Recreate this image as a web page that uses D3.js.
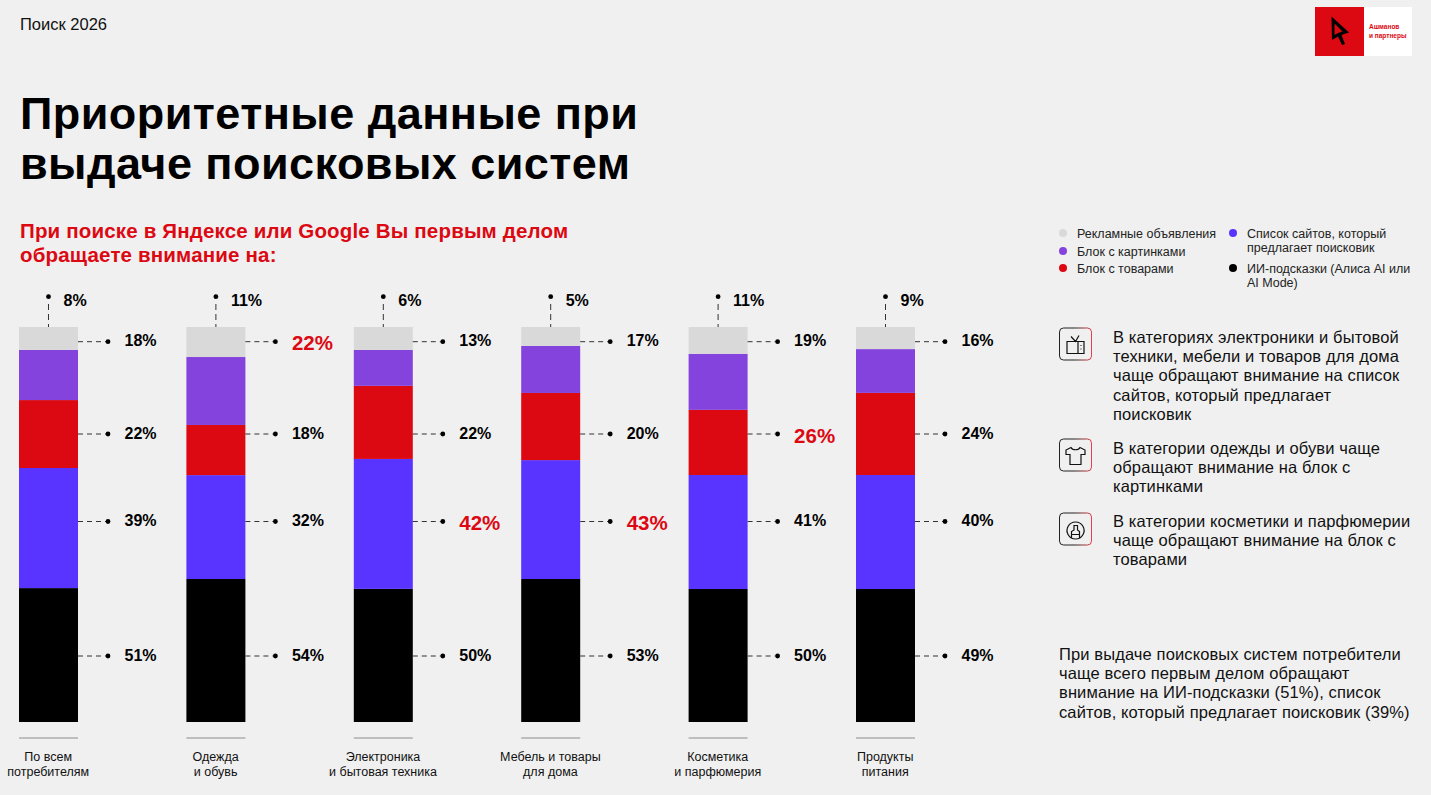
<!DOCTYPE html>
<html>
<head>
<meta charset="utf-8">
<script src="https://cdn.jsdelivr.net/npm/d3@7"></script>
<style>
  html, body { margin: 0; padding: 0; background: #f0f0f0; overflow: hidden; }
  svg { display: block; font-family: "Liberation Sans", Arial, sans-serif; }
</style>
</head>
<body>
<svg id="chart" width="1431" height="795"></svg>
<script>
const categories = [
  ["По всем", "потребителям"],
  ["Одежда", "и обувь"],
  ["Электроника", "и бытовая техника"],
  ["Мебель и товары", "для дома"],
  ["Косметика", "и парфюмерия"],
  ["Продукты", "питания"]
];
const seriesKeys = ["ads", "images", "goods", "sites", "ai"];
const seriesColors = ["#d9d9d9", "#8543dd", "#dc0812", "#5933ff", "#000000"];

// printed percentages (multiple choice, they don't add up to 100)
const adsValues = [8, 11, 6, 5, 11, 9];
const imagesValues = [18, 22, 13, 17, 19, 16];
const goodsValues = [22, 18, 22, 20, 26, 24];
const sitesValues = [39, 32, 42, 43, 41, 40];
const aiValues = [51, 54, 50, 53, 50, 49];

// the drawn bars are not proportional to the labels, so the shares are read off the picture
const adsShare = [5.8, 7.6, 5.8, 4.8, 6.8, 5.6];
const imagesShare = [12.7, 17.2, 9.1, 11.9, 14.2, 11.1];
const goodsShare = [17.2, 12.7, 18.5, 17.0, 16.5, 20.8];
const sitesShare = [30.4, 26.3, 32.9, 30.1, 28.9, 28.9];
const aiShare = [33.9, 36.2, 33.7, 36.2, 33.7, 33.7];

// labels set in big red: [category, series]
const highlighted = [[1, "images"], [2, "sites"], [3, "sites"], [4, "goods"]];

const legendLeft = ["Рекламные объявления", "Блок с картинками", "Блок с товарами"];
const legendRight = [["Список сайтов, который", "предлагает поисковик"], ["ИИ-подсказки (Алиса AI или", "AI Mode)"]];

const notes = [
  ["В категориях электроники и бытовой", "техники, мебели и товаров для дома", "чаще обращают внимание на список", "сайтов, который предлагает", "поисковик"],
  ["В категории одежды и обуви чаще", "обращают внимание на блок с", "картинками"],
  ["В категории косметики и парфюмерии", "чаще обращают внимание на блок с", "товарами"]
];
const summary = ["При выдаче поисковых систем потребители", "чаще всего первым делом обращают", "внимание на ИИ-подсказки (51%), список", "сайтов, который предлагает поисковик (39%)"];

const svg = d3.select("#chart");
const RED = "#dc0812";

const textLines = (g, lines, x, y0, step, attrs) => {
  lines.forEach((line, i) => {
    const t = g.append("text").attr("x", x).attr("y", y0 + i * step).text(line);
    Object.entries(attrs).forEach(([k, v]) => t.attr(k, v));
  });
};

// header
svg.append("text").attr("x", 20).attr("y", 30).attr("font-size", 16.5).attr("fill", "#111").text("Поиск 2026");
textLines(svg, ["Приоритетные данные при", "выдаче поисковых систем"], 20, 129, 50, {
  "font-size": 45, "font-weight": 700, fill: "#000", "letter-spacing": 0.45
});
textLines(svg, ["При поиске в Яндексе или Google Вы первым делом", "обращаете внимание на:"], 20, 238, 24, {
  "font-size": 20.5, "font-weight": 700, fill: RED, "letter-spacing": 0.17
});

// logo
const logo = svg.append("g");
logo.append("rect").attr("x", 1315).attr("y", 7).attr("width", 49).attr("height", 49).attr("fill", RED);
logo.append("rect").attr("x", 1364).attr("y", 7).attr("width", 48).attr("height", 49).attr("fill", "#fff");
logo.append("path")
  .attr("d", "M1331.5 16.5 L1349 32.5 L1341.5 35 L1345 44 L1342 45 L1338 36.5 L1332 40 Z M1334.5 23.5 L1334.5 35 L1338 33 L1342.5 31.5 Z")
  .attr("fill", "#000").attr("fill-rule", "evenodd");
textLines(logo, ["Ашманов", "и партнеры"], 1369, 29, 9, { "font-size": 6.5, "font-weight": 700, fill: RED });

// stacked bars
const rows = categories.map((c, i) => ({
  ads: adsShare[i], images: imagesShare[i], goods: goodsShare[i], sites: sitesShare[i], ai: aiShare[i]
}));
const labelValues = { images: imagesValues, goods: goodsValues, sites: sitesValues, ai: aiValues };

const x = d3.scaleBand().domain(d3.range(categories.length)).range([19, 915]).paddingInner(0.6476).paddingOuter(0);
const y = d3.scaleLinear().domain([0, 1]).range([722, 327]);
const stacked = d3.stack().keys(seriesKeys.slice().reverse()).offset(d3.stackOffsetExpand)(rows);
const color = d3.scaleOrdinal().domain(seriesKeys).range(seriesColors);

svg.append("g").selectAll("g").data(stacked).join("g")
  .attr("fill", d => color(d.key))
  .selectAll("rect").data(d => d).join("rect")
  .attr("x", (d, i) => x(i))
  .attr("y", d => y(d[1]))
  .attr("width", x.bandwidth())
  .attr("height", d => y(d[0]) - y(d[1]));

// leaders and labels, the label rows sit at fixed heights in the original
const labelRows = [["images", 341.7], ["goods", 434], ["sites", 521.5], ["ai", 656]];
const leaders = svg.append("g");
categories.forEach((c, i) => {
  const cx = x(i) + x.bandwidth() / 2;
  const rx = x(i) + x.bandwidth();
  leaders.append("line").attr("x1", cx).attr("x2", cx).attr("y1", 304).attr("y2", 327)
    .attr("stroke", "#333").attr("stroke-width", 1).attr("stroke-dasharray", "6 4");
  leaders.append("circle").attr("cx", cx).attr("cy", 296.7).attr("r", 2.4).attr("fill", "#000");
  leaders.append("text").attr("x", cx + 15).attr("y", 306).attr("font-size", 16).attr("font-weight", 700).text(adsValues[i] + "%");

  labelRows.forEach(([key, ly]) => {
    const hot = highlighted.some(h => h[0] === i && h[1] === key);
    leaders.append("line").attr("x1", rx).attr("x2", rx + 28).attr("y1", ly).attr("y2", ly)
      .attr("stroke", "#333").attr("stroke-width", 1).attr("stroke-dasharray", "5 4");
    leaders.append("circle").attr("cx", rx + 30).attr("cy", ly).attr("r", 2.4).attr("fill", "#000");
    leaders.append("text").attr("x", rx + 46.5).attr("y", ly + (hot ? 8.5 : 4.5))
      .attr("font-size", hot ? 20.5 : 16).attr("font-weight", 700)
      .attr("fill", hot ? RED : "#000")
      .text(labelValues[key][i] + "%");
  });

  svg.append("line").attr("x1", x(i)).attr("x2", rx).attr("y1", 738).attr("y2", 738)
    .attr("stroke", "#8c8c8c").attr("stroke-width", 1.2);
  textLines(svg, c, cx - 0.3, 761, 14.5, { "font-size": 12.5, "text-anchor": "middle", fill: "#111" });
});

// legend
legendLeft.forEach((t, i) => {
  const ly = [233, 251, 268][i];
  svg.append("circle").attr("cx", 1063).attr("cy", ly).attr("r", 4).attr("fill", seriesColors[i]);
  svg.append("text").attr("x", 1077).attr("y", ly + 4.5).attr("font-size", 12.5).attr("fill", "#222").text(t);
});
legendRight.forEach((t, i) => {
  const ly = [233, 268][i];
  svg.append("circle").attr("cx", 1233).attr("cy", ly).attr("r", 4).attr("fill", seriesColors[i + 3]);
  textLines(svg, t, 1247, ly + 4.5, 14.5, { "font-size": 12.5, fill: "#222" });
});

// notes with icons
const defs = svg.append("defs");
const grad = defs.append("linearGradient").attr("id", "boxEdge").attr("x1", 0).attr("y1", 0).attr("x2", 1).attr("y2", 0);
grad.append("stop").attr("offset", "45%").attr("stop-color", "#222");
grad.append("stop").attr("offset", "100%").attr("stop-color", "#e8404a");

const iconTops = [327.5, 438.5, 512.5];
const iconPaths = [
  "M8 14 H25 V26 H8 Z M19 14 V26 M12 9 L16.5 14 L20 8 M21.5 18 h1 M21.5 21.5 h1",
  "M12 9 L7 11.5 L7 16 L11 16 L11 26 L22 26 L22 16 L26 16 L26 11.5 L21 9 C19.5 12 13.5 12 12 9 Z",
  "M16.5 9.5 A8.5 8.5 0 1 0 16.6 9.5 Z M12.5 25 V19 L15 17.5 V13 H18.5 V17.5 L20.5 19 V25 M12.5 22 H20.5"
];
iconTops.forEach((top, i) => {
  const g = svg.append("g").attr("transform", `translate(1059,${top})`);
  g.append("rect").attr("x", 0.5).attr("y", 0.5).attr("width", 32).attr("height", 32).attr("rx", 4)
    .attr("fill", "none").attr("stroke", "url(#boxEdge)").attr("stroke-width", 1);
  g.append("path").attr("d", iconPaths[i]).attr("fill", "none").attr("stroke", "#111").attr("stroke-width", 1.2);
});
const noteTops = [343, 454, 527];
notes.forEach((lines, i) => {
  textLines(svg, lines, 1113, noteTops[i], 19.2, { "font-size": 16.5, fill: "#111", "letter-spacing": 0.12 });
});
textLines(svg, summary, 1059, 660, 19.2, { "font-size": 16.5, fill: "#111", "letter-spacing": 0.12 });
</script>
</body>
</html>
